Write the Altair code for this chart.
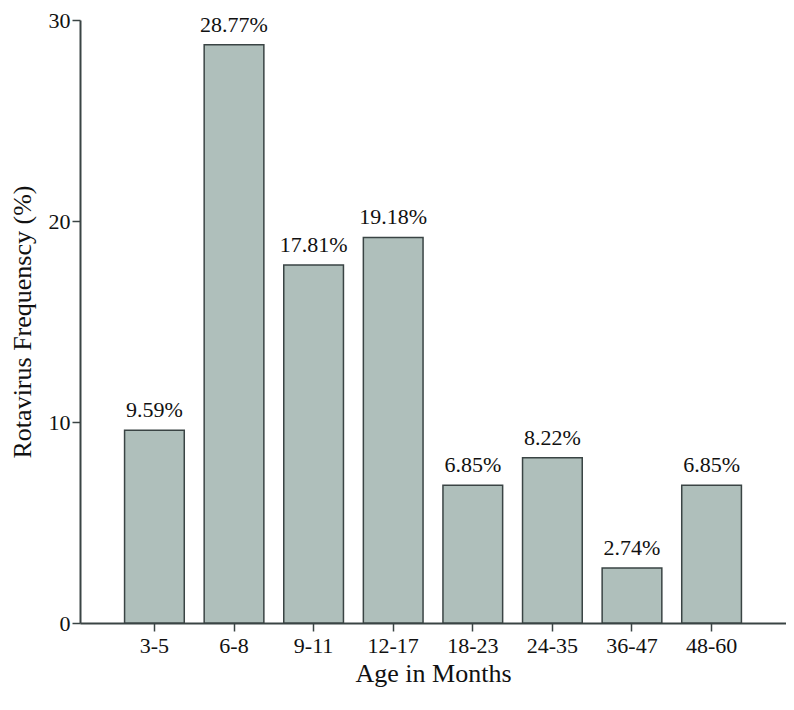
import altair as alt
import pandas as pd

age_groups = ["3-5", "6-8", "9-11", "12-17", "18-23", "24-35", "36-47", "48-60"]
frequency = [9.59, 28.77, 17.81, 19.18, 6.85, 8.22, 2.74, 6.85]
bar_labels = ["9.59%", "28.77%", "17.81%", "19.18%", "6.85%", "8.22%", "2.74%", "6.85%"]
y_ticks = [0, 10, 20, 30]

df = pd.DataFrame({"age": age_groups, "freq": frequency, "label": bar_labels})

FONT = "Liberation Serif"
AXIS_COLOR = "#3a4444"
TEXT_COLOR = "#111111"

x_enc = alt.X(
    "age:N",
    sort=age_groups,
    scale=alt.Scale(paddingInner=0.25, paddingOuter=0.56),
    axis=alt.Axis(
        title="Age in Months",
        labelAngle=0,
        labelFont=FONT,
        labelFontSize=22,
        labelColor=TEXT_COLOR,
        labelPadding=4,
        tickSize=8,
        tickWidth=1.5,
        tickColor=AXIS_COLOR,
        domainColor=AXIS_COLOR,
        domainWidth=2,
        titleFont=FONT,
        titleFontSize=26,
        titleFontWeight="normal",
        titleColor=TEXT_COLOR,
        titleY=58,
        titleBaseline="alphabetic",
        grid=False,
    ),
)

y_enc = alt.Y(
    "freq:Q",
    scale=alt.Scale(domain=[0, 30], nice=False),
    axis=alt.Axis(
        title="Rotavirus Frequenscy (%)",
        values=y_ticks,
        labelFont=FONT,
        labelFontSize=22,
        labelColor=TEXT_COLOR,
        labelPadding=2,
        tickSize=8,
        tickWidth=1.5,
        tickColor=AXIS_COLOR,
        domainColor=AXIS_COLOR,
        domainWidth=2,
        titleFont=FONT,
        titleFontSize=26,
        titleFontWeight="normal",
        titleColor=TEXT_COLOR,
        titleX=-58,
        titleBaseline="middle",
        grid=False,
    ),
)

bars = alt.Chart(df).mark_bar(
    color="#afbfbb", stroke="#3a4444", strokeWidth=1.5
).encode(x=x_enc, y=y_enc)

texts = alt.Chart(df).mark_text(
    font=FONT, fontSize=22, color=TEXT_COLOR, baseline="alphabetic", dy=-13
).encode(
    x=alt.X("age:N", sort=age_groups),
    y=alt.Y("freq:Q"),
    text="label:N",
)

chart = (
    alt.layer(bars, texts)
    .properties(
        width=706,
        height=603,
        autosize=alt.AutoSizeParams(type="none"),
        padding={"left": 72, "top": 12, "right": 0, "bottom": 65},
        view=alt.ViewBackground(stroke="transparent", strokeWidth=0),
    )
    .configure_view(stroke="transparent", strokeWidth=0)
    .configure_axis(grid=False)
    .configure(background="white")
)

chart.save("out.html", embed_options={"renderer": "svg", "actions": False})
